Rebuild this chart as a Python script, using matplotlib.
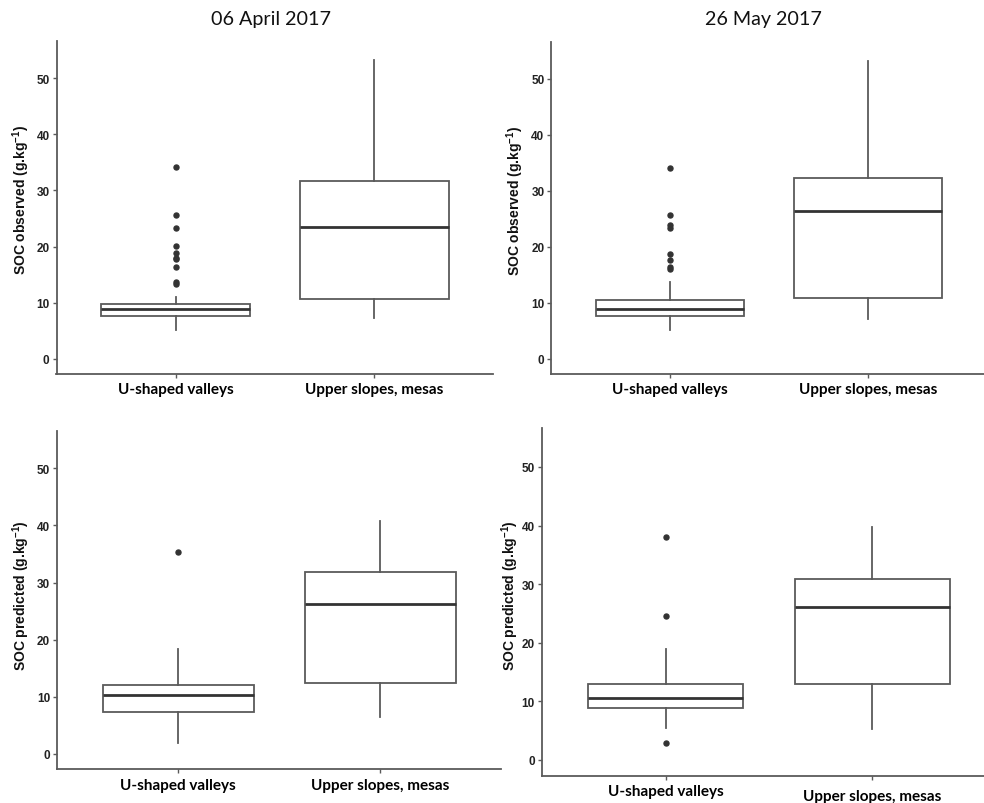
import matplotlib.pyplot as plt

W, H = 984, 804

categories = ["U-shaped valleys", "Upper slopes, mesas"]
titles = ["06 April 2017", "26 May 2017"]

# boxes: [whisker low, q1, median, q3, whisker high]
obs_apr_valley = [5.15, 7.6, 8.9, 9.7, 11.1]
obs_apr_valley_out = [34.1, 25.6, 23.3, 20.1, 18.8, 18.0, 17.7, 16.3, 13.7, 13.4]
obs_apr_upper = [7.2, 10.65, 23.55, 31.6, 53.3]

obs_may_valley = [5.2, 7.67, 8.86, 10.46, 13.73]
obs_may_valley_out = [34.1, 25.6, 23.9, 23.3, 18.8, 17.7, 16.35, 16.05]
obs_may_upper = [7.1, 10.9, 26.3, 32.2, 53.2]

pred_apr_valley = [1.98, 7.4, 10.26, 12.12, 18.3]
pred_apr_valley_out = [35.4]
pred_apr_upper = [6.4, 12.4, 26.2, 31.8, 40.7]

pred_may_valley = [5.4, 8.84, 10.6, 12.9, 19.0]
pred_may_valley_out = [38.1, 24.6, 2.8]
pred_may_upper = [5.25, 12.94, 26.1, 30.9, 39.8]


def stats(box, out):
    return dict(whislo=box[0], q1=box[1], med=box[2], q3=box[3], whishi=box[4], fliers=out)


fig = plt.figure(figsize=(W / 100, H / 100), dpi=100)

# panel rects in pixels: x0, x1, y_top, y_bottom
panels = [
    (56.5, 493.5, 42, 375, obs_apr_valley, obs_apr_valley_out, obs_apr_upper,
     "SOC observed", (21, 200)),
    (551.4, 986.3, 42.7, 375, obs_may_valley, obs_may_valley_out, obs_may_upper,
     "SOC observed", (515, 201)),
    (57.1, 501.5, 431.7, 770.3, pred_apr_valley, pred_apr_valley_out, pred_apr_upper,
     "SOC predicted", (21.5, 596)),
    (541.7, 996, 429.3, 776.7, pred_may_valley, pred_may_valley_out, pred_may_upper,
     "SOC predicted", (510, 596)),
]

edge = "#5a5a5a"
for i, (x0, x1, yt, yb, val, val_out, up, lab, lpos) in enumerate(panels):
    ax = fig.add_axes([x0 / W, 1 - yb / H, (x1 - x0) / W, (yb - yt) / H])
    ax.bxp([stats(val, val_out), stats(up, [])], positions=[1, 2], widths=0.75,
           showcaps=False, patch_artist=True,
           boxprops=dict(facecolor="white", edgecolor=edge, linewidth=1.3),
           whiskerprops=dict(color=edge, linewidth=1.3),
           medianprops=dict(color="#333333", linewidth=2.0),
           flierprops=dict(marker="o", markerfacecolor="#333333",
                           markeredgecolor="#333333", markersize=3.6))
    ax.set_xlim(0.4, 2.6)
    ax.set_ylim(-2.7, 56.6)
    ax.set_yticks([0, 10, 20, 30, 40, 50])
    ax.set_xticks([1, 2], categories)
    for s in ["top", "right"]:
        ax.spines[s].set_visible(False)
    for s in ["left", "bottom"]:
        ax.spines[s].set_color(edge)
        ax.spines[s].set_linewidth(1.3)
    ax.tick_params(axis="both", direction="out", length=3, width=1, color=edge)
    ax.tick_params(axis="y", labelsize=8.5, labelcolor="#222222", pad=2)
    ax.tick_params(axis="x", labelsize=11, labelcolor="black", pad=3)
    for t in ax.get_yticklabels():
        t.set_fontweight("bold")
        t.set_family("Liberation Sans")
    for t in ax.get_xticklabels():
        t.set_fontweight("bold")
        t.set_family("Lato")
    if i == 3:
        ax.xaxis.get_major_ticks()[1].set_pad(6.5)
    fig.text(lpos[0] / W, 1 - lpos[1] / H, lab + r" (g.kg$\mathregular{^{-1}}$)",
             rotation=90, ha="center", va="center", fontsize=10,
             fontweight="bold", family="Liberation Sans", color="#111111")

fig.text(271 / W, 1 - 20 / H, titles[0], ha="center", va="center", fontsize=14.2,
         family="Lato", color="#111111")
fig.text(763 / W, 1 - 20 / H, titles[1], ha="center", va="center", fontsize=14.2,
         family="Lato", color="#111111")

fig.savefig("out.png", dpi=100)
